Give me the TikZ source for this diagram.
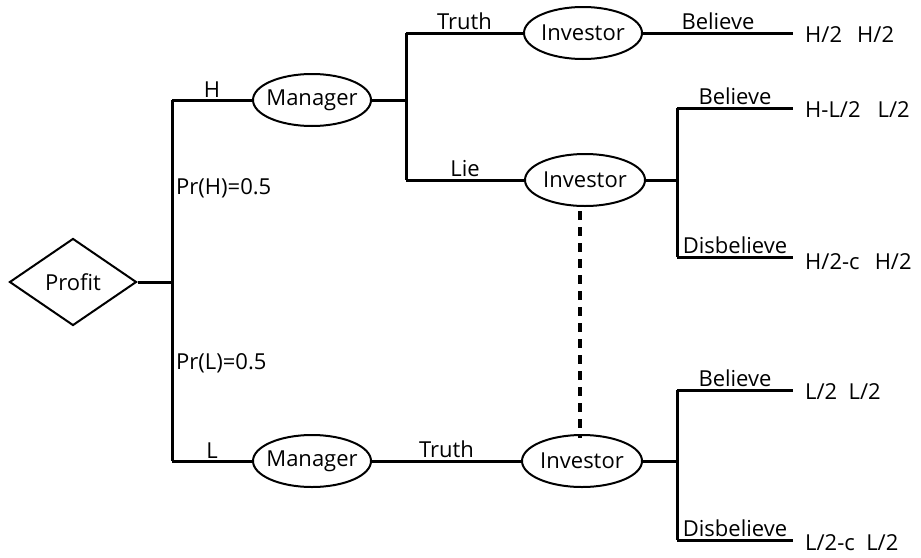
\documentclass[tikz,border=0pt]{standalone}
\usepackage{fontspec}
\setmainfont{Open Sans}
\usetikzlibrary{shapes.geometric}
\begin{document}
\begin{tikzpicture}[x=1pt,y=-1pt,
  every node/.style={font=\fontsize{22}{25}\selectfont},
  br/.style={line width=3pt},
  ell/.style={draw,ellipse,line width=2pt,minimum width=118pt,minimum height=52pt,inner xsep=-10pt,inner ysep=0pt},
  dia/.style={draw,diamond,line width=2pt,minimum width=127pt,minimum height=87pt,inner sep=0pt,aspect=1.46},
  lbl/.style={inner sep=1.5pt,anchor=south},
  pay/.style={inner sep=0pt,anchor=west}]
\useasboundingbox (0,0) rectangle (921,557);
\node[dia] (profit) at (73,282) {Profit};
\node[ell] (m1) at (312,100) {Manager};
\node[ell] (m2) at (312,461) {Manager};
\node[ell] (i1) at (583,33) {Investor};
\node[ell,minimum width=120pt] (i2) at (585,180) {Investor};
\node[ell,minimum width=120pt] (i3) at (582,461) {Investor};
\coordinate (r) at (172,282);
\coordinate (rt) at (172,100);
\coordinate (rb) at (172,461);
\coordinate (a) at (406,100);
\coordinate (at) at (406,33);
\coordinate (ab) at (406,180);
\coordinate (b) at (677,180);
\coordinate (bt) at (677,108);
\coordinate (bb) at (677,257);
\coordinate (bt2) at (793,108);
\coordinate (bb2) at (793,257);
\coordinate (c) at (677,461);
\coordinate (ct) at (677,390);
\coordinate (cb) at (677,540);
\coordinate (ct2) at (793,390);
\coordinate (cb2) at (793,540);
\coordinate (e1) at (793,33);
% branches
\draw[br] (profit.east) -- (r);
\draw[br] (rt) -- (rb);
\draw[br] (rt) -- node[lbl]{H} (m1.west);
\draw[br] (rb) -- node[lbl]{L} (m2.west);
\draw[br] (m1.east) -- (a);
\draw[br] (at) -- (ab);
\draw[br] (at) -- node[lbl]{Truth} (i1.west);
\draw[br] (ab) -- node[lbl]{Lie} (i2.west);
\draw[br] (m2.east) -- node[lbl]{Truth} (i3.west);
\draw[br] (i1.east) -- node[lbl]{Believe} (e1);
\draw[br] (i2.east) -- (b);
\draw[br] (bt) -- (bb);
\draw[br] (bt) -- node[lbl]{Believe} (bt2);
\draw[br] (bb) -- node[lbl]{Disbelieve} (bb2);
\draw[br] (i3.east) -- (c);
\draw[br] (ct) -- (cb);
\draw[br] (ct) -- node[lbl]{Believe} (ct2);
\draw[br] (cb) -- node[lbl]{Disbelieve} (cb2);
\draw[line width=3.5pt,dash pattern=on 9pt off 7pt] (i2.south -| 580,0) ++(0,4) -- ([yshift=-4pt]i3.north -| 580,0);
% probabilities
\node[pay] (ph) at (176,188) {Pr(H)=0.5};
\node[pay] (pl) at (176,363) {Pr(L)=0.5};
% payoffs
\node[pay] (p1) at (805,35) {H/2\ \ \,H/2};
\node[pay] (p2) at (805,110) {H-L/2\ \ \ L/2};
\node[pay] (p3) at (805,262) {H/2-c\ \ \,H/2};
\node[pay] (p4) at (805,392) {L/2\ \ L/2};
\node[pay] (p5) at (805,543) {L/2-c\ \ L/2};
\end{tikzpicture}
\end{document}
